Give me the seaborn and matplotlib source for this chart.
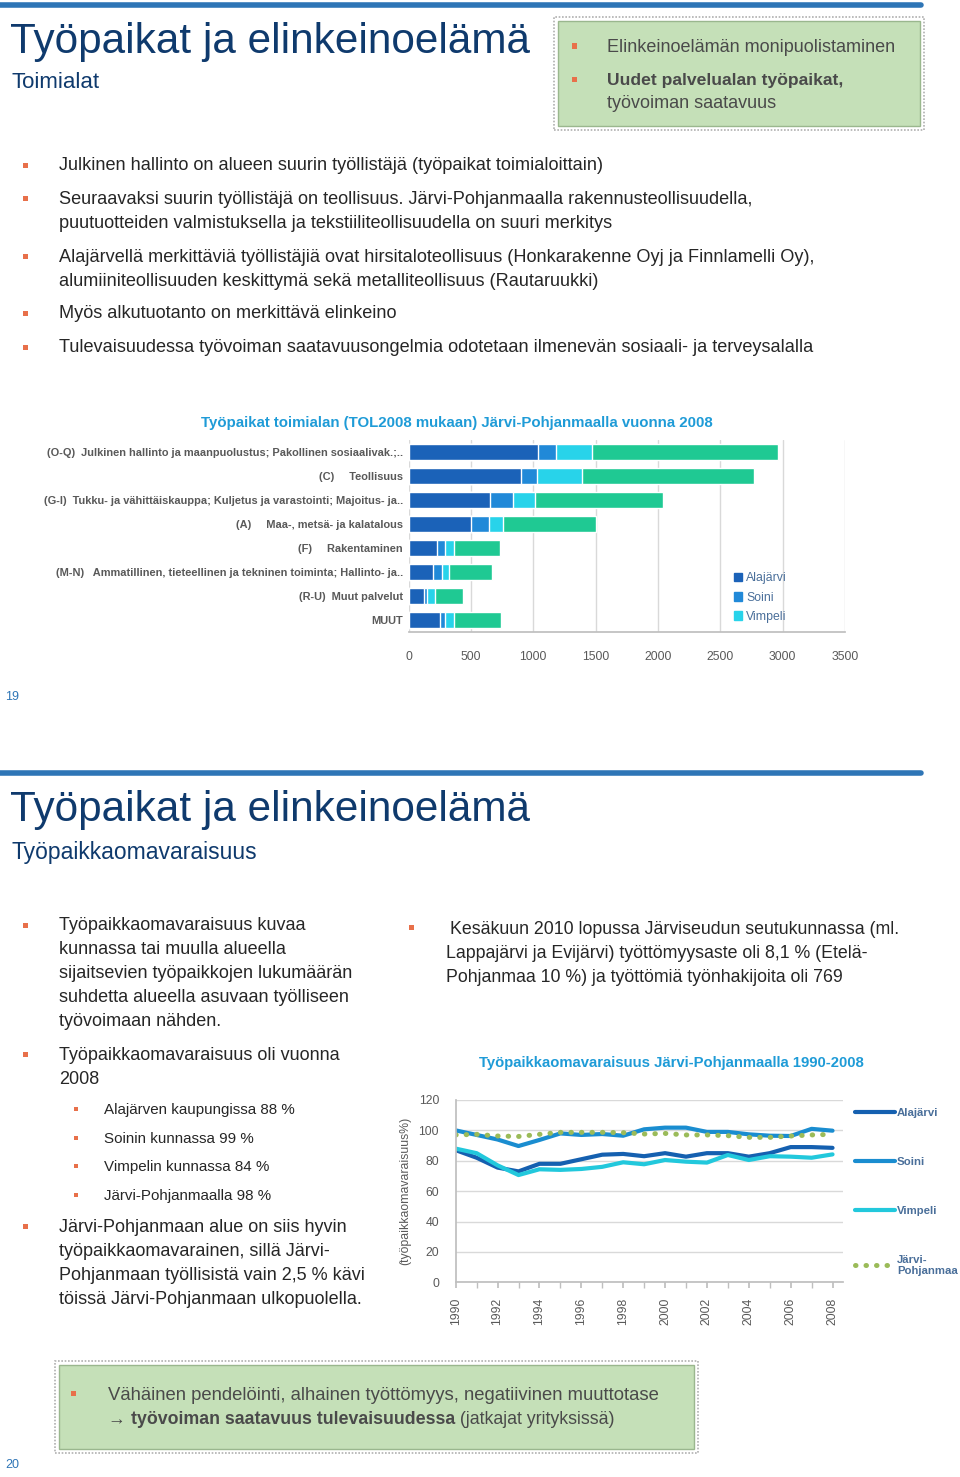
import numpy as np
import pandas as pd
import matplotlib
matplotlib.use("Agg")
import matplotlib.pyplot as plt
import seaborn as sns
from matplotlib.patches import Patch, Rectangle
from matplotlib.lines import Line2D

# --- data: jobs by industry 2008 (stacked per municipality) ---
industries = [
    "(O-Q)  Julkinen hallinto ja maanpuolustus; Pakollinen sosiaalivak.;..",
    "(C)     Teollisuus",
    "(G-I)  Tukku- ja vähittäiskauppa; Kuljetus ja varastointi; Majoitus- ja..",
    "(A)     Maa-, metsä- ja kalatalous",
    "(F)     Rakentaminen",
    "(M-N)   Ammatillinen, tieteellinen ja tekninen toiminta; Hallinto- ja..",
    "(R-U)  Muut palvelut",
    "MUUT",
]
alajarvi_jobs = [1040, 900, 650, 500, 230, 200, 125, 255]
soini_jobs = [145, 130, 190, 145, 60, 65, 20, 40]
vimpeli_jobs = [290, 360, 175, 110, 75, 60, 65, 70]
muut_jobs = [1490, 1380, 1025, 750, 370, 345, 230, 375]

# --- data: job self-sufficiency 1990-2008 ---
years = list(range(1990, 2009))
alajarvi_pct = [87, 82, 75.5, 73, 78, 78, 81, 84, 84.5, 83, 85, 82.7, 85, 85, 82.7, 85, 89, 89, 88.5]
soini_pct = [100, 97, 94, 89.7, 93.7, 98, 97, 97.6, 96.5, 100.7, 101.8, 101.8, 99, 99, 97.4, 96.5, 96.3, 101, 99.8]
vimpeli_pct = [88, 85, 77, 70.6, 74.4, 74, 74.6, 76, 79, 77.7, 80.5, 79.4, 78.8, 83.8, 80.5, 83, 82.7, 82, 84.2]
jp_pct = [97, 97.4, 96.3, 96, 97.4, 98.7, 98.7, 98.7, 98.5, 97.6, 98, 97, 97, 96.5, 95.4, 95.4, 96.3, 97, 97.4]

W, H = 960, 1477
sns.set_theme(style="white")
plt.rcParams["font.family"] = ["Liberation Sans", "DejaVu Sans"]

fig = plt.figure(figsize=(W / 100, H / 100), dpi=100)

NAVY = "#0f3a6d"
LINEBLUE = "#2e75b6"
BODY = "#262626"
ORANGE = "#e8704a"
CHART_T = "#1e9bd7"
GREENBOX = "#c5e0b8"


def fx(x):
    return x / W


def fy(y):
    return 1 - y / H


def txt(x, y, s, **kw):
    kw.setdefault("va", "center")
    kw.setdefault("color", BODY)
    return fig.text(fx(x), fy(y), s, **kw)


def bullet(x, y, size=5):
    fig.patches.append(Rectangle((fx(x - size / 2), fy(y + size / 2)), size / W, size / H,
                                 transform=fig.transFigure, color=ORANGE, lw=0))


def runs(x, y, parts, size, color):
    r = fig.canvas.get_renderer()
    for s, w in parts:
        t = txt(x, y, s, fontsize=size, fontweight=w, color=color)
        bb = t.get_window_extent(renderer=r)
        x += bb.width


def hline(y, x0, x1, lw=4):
    fig.add_artist(Line2D([fx(x0), fx(x1)], [fy(y), fy(y)], transform=fig.transFigure,
                          color=LINEBLUE, lw=lw))


def box(x0, y0, x1, y1):
    fig.patches.append(Rectangle((fx(x0 - 4), fy(y1 + 4)), (x1 - x0 + 8) / W, (y1 - y0 + 8) / H,
                                 transform=fig.transFigure, facecolor="white",
                                 edgecolor="#b0b0b0", lw=1.2, ls=(0, (1, 1))))
    fig.patches.append(Rectangle((fx(x0), fy(y1)), (x1 - x0) / W, (y1 - y0) / H,
                                 transform=fig.transFigure, facecolor=GREENBOX,
                                 edgecolor="#9ab78e", lw=1))


# ================= slide 19 =================
hline(5, 0, 921)
txt(10, 42, "Työpaikat ja elinkeinoelämä", fontsize=30.4, color=NAVY)
txt(12, 83, "Toimialat", fontsize=16, color=NAVY)

box(558, 21, 920, 126)
bullet(574, 46)
txt(607, 47, "Elinkeinoelämän monipuolistaminen", fontsize=13, color="#4a4a4a")
bullet(574, 79)
txt(607, 81, "Uudet palvelualan työpaikat,", fontsize=12.6, color="#4a4a4a", fontweight="bold")
txt(607, 104, "työvoiman saatavuus", fontsize=13, color="#4a4a4a")

slide1_lines = [
    (166, "Julkinen hallinto on alueen suurin työllistäjä (työpaikat toimialoittain)", True),
    (199, "Seuraavaksi suurin työllistäjä on teollisuus. Järvi-Pohjanmaalla rakennusteollisuudella,", True),
    (223, "puutuotteiden valmistuksella ja tekstiiliteollisuudella on suuri merkitys", False),
    (257, "Alajärvellä merkittäviä työllistäjiä ovat hirsitaloteollisuus (Honkarakenne Oyj ja Finnlamelli Oy),", True),
    (281, "alumiiniteollisuuden keskittymä sekä metalliteollisuus (Rautaruukki)", False),
    (314, "Myös alkutuotanto on merkittävä elinkeino", True),
    (348, "Tulevaisuudessa työvoiman saatavuusongelmia odotetaan ilmenevän sosiaali- ja terveysalalla", True),
]
for y, s, b in slide1_lines:
    if b:
        bullet(25, y - 1)
    txt(59, y, s, fontsize=13.1)

txt(457, 423, "Työpaikat toimialan (TOL2008 mukaan) Järvi-Pohjanmaalla vuonna 2008",
    fontsize=10.8, color=CHART_T, fontweight="bold", ha="center")

# stacked bar chart, drawn as cumulative layers
bar_colors = ["#1b62b8", "#2189d8", "#28d3ea", "#1fc993"]
bar_names = ["Alajärvi", "Soini", "Vimpeli", "Muut"]
stack = np.cumsum(np.array([alajarvi_jobs, soini_jobs, vimpeli_jobs, muut_jobs]), axis=0)
ax1 = fig.add_axes([fx(408.5), fy(632), (845 - 408.5) / W, (632 - 440) / H])
for i in range(3, -1, -1):
    df = pd.DataFrame({"toimiala": industries, "työpaikat": stack[i]})
    sns.barplot(data=df, x="työpaikat", y="toimiala", orient="h", color=bar_colors[i],
                width=0.66, saturation=1, ax=ax1)
ax1.set_xlim(0, 3500)
ax1.set_xticks(range(0, 3501, 500))
ax1.grid(axis="x", color="#d9d9d9", lw=1)
ax1.set_axisbelow(True)
ax1.set_xlabel("")
ax1.set_ylabel("")
for sp in ["top", "right", "left"]:
    ax1.spines[sp].set_visible(False)
ax1.spines["bottom"].set_color("#bfbfbf")
ax1.tick_params(axis="x", labelsize=8.8, colors="#595959", pad=14, length=0)
ax1.tick_params(axis="y", labelsize=7.9, colors="#595959", pad=4, length=0)
for lab in ax1.get_yticklabels():
    lab.set_fontweight("bold")
handles = [Patch(color=bar_colors[i], label=bar_names[i]) for i in range(3)]
ax1.legend(handles=handles, loc="lower left", bbox_to_anchor=(0.72, -0.01), frameon=False,
           fontsize=8.8, labelcolor="#4a6f9a", handlelength=0.7, handleheight=0.7,
           handletextpad=0.3, labelspacing=0.6)

txt(5, 697, "19", fontsize=9, color=LINEBLUE)

# ================= slide 20 =================
hline(773, 0, 921)
txt(10, 810, "Työpaikat ja elinkeinoelämä", fontsize=30.4, color=NAVY)
txt(12, 852, "Työpaikkaomavaraisuus", fontsize=16.5, color=NAVY)

left_lines = [
    (926, "Työpaikkaomavaraisuus kuvaa", True),
    (950, "kunnassa tai muulla alueella", False),
    (974, "sijaitsevien työpaikkojen lukumäärän", False),
    (998, "suhdetta alueella asuvaan työlliseen", False),
    (1022, "työvoimaan nähden.", False),
    (1055, "Työpaikkaomavaraisuus oli vuonna", True),
    (1079, "2008", False),
    (1227, "Järvi-Pohjanmaan alue on siis hyvin", True),
    (1251, "työpaikkaomavarainen, sillä Järvi-", False),
    (1275, "Pohjanmaan työllisistä vain 2,5 % kävi", False),
    (1299, "töissä Järvi-Pohjanmaan ulkopuolella.", False),
]
for y, s, b in left_lines:
    if b:
        bullet(25, y - 1)
    txt(59, y, s, fontsize=13)

sub_lines = [(1110, "Alajärven kaupungissa 88 %"), (1139, "Soinin kunnassa 99 %"),
             (1167, "Vimpelin kunnassa 84 %"), (1196, "Järvi-Pohjanmaalla 98 %")]
for y, s in sub_lines:
    bullet(76, y - 1, 4.5)
    txt(104, y, s, fontsize=10.9)

bullet(411, 928)
txt(450, 929, "Kesäkuun 2010 lopussa Järviseudun seutukunnassa (ml.", fontsize=12.8)
txt(446, 953, "Lappajärvi ja Evijärvi) työttömyysaste oli 8,1 % (Etelä-", fontsize=12.8)
txt(446, 977, "Pohjanmaa 10 %) ja työttömiä työnhakijoita oli 769", fontsize=12.8)

txt(671, 1063, "Työpaikkaomavaraisuus Järvi-Pohjanmaalla 1990-2008",
    fontsize=10.7, color=CHART_T, fontweight="bold", ha="center")

# line chart
ax2 = fig.add_axes([fx(455.7), fy(1282.3), (843 - 455.7) / W, (1282.3 - 1100) / H])
series = [("Alajärvi", alajarvi_pct, "#1560b0", "-", 3.0),
          ("Soini", soini_pct, "#1a8dd0", "-", 3.0),
          ("Vimpeli", vimpeli_pct, "#22c8dc", "-", 3.0),
          ("Järvi-\nPohjanmaa", jp_pct, "#9bbb59", (0, (0.1, 2.0)), 3.6)]
for name, vals, col, ls, lw in series:
    sns.lineplot(x=years, y=vals, ax=ax2, color=col, lw=lw, label=name,
                 linestyle=ls, dash_capstyle="round", solid_capstyle="round")
ax2.set_xlim(1990, 2008.5)
ax2.set_ylim(0, 120)
ax2.set_yticks(range(0, 121, 20))
ax2.set_xticks(years[::2])
ax2.set_xticks(years, minor=True)
ax2.set_xticklabels([str(y) for y in years[::2]], rotation=90)
ax2.grid(axis="y", color="#d9d9d9", lw=1)
ax2.set_axisbelow(True)
for sp in ["top", "right"]:
    ax2.spines[sp].set_visible(False)
for sp in ["left", "bottom"]:
    ax2.spines[sp].set_color("#bfbfbf")
ax2.tick_params(axis="x", which="both", bottom=True, length=4, color="#bfbfbf",
                labelsize=8.8, labelcolor="#595959", pad=7)
ax2.tick_params(axis="y", length=0, labelsize=8.8, labelcolor="#595959", pad=12)
ax2.set_ylabel("(työpaikkaomavaraisuus%)", fontsize=8.8, color="#595959", labelpad=5)
ax2.legend(loc="upper left", bbox_to_anchor=(1.005, 1.01), frameon=False,
           labelcolor="#4a6f9a", handlelength=3.5, handletextpad=0.15, labelspacing=3.4,
           prop={"weight": "bold", "size": 8.2})

box(59, 1365, 694, 1449)
bullet(73, 1393)
txt(108, 1396, "Vähäinen pendelöinti, alhainen työttömyys, negatiivinen muuttotase",
    fontsize=13.3, color="#4a4a4a")
runs(108, 1420, [("→ ", "bold"), ("työvoiman saatavuus tulevaisuudessa", "bold"),
                 (" (jatkajat yrityksissä)", "normal")], 12.8, "#4a4a4a")

txt(5, 1465, "20", fontsize=9, color=LINEBLUE)

fig.savefig("out.png", dpi=100)
